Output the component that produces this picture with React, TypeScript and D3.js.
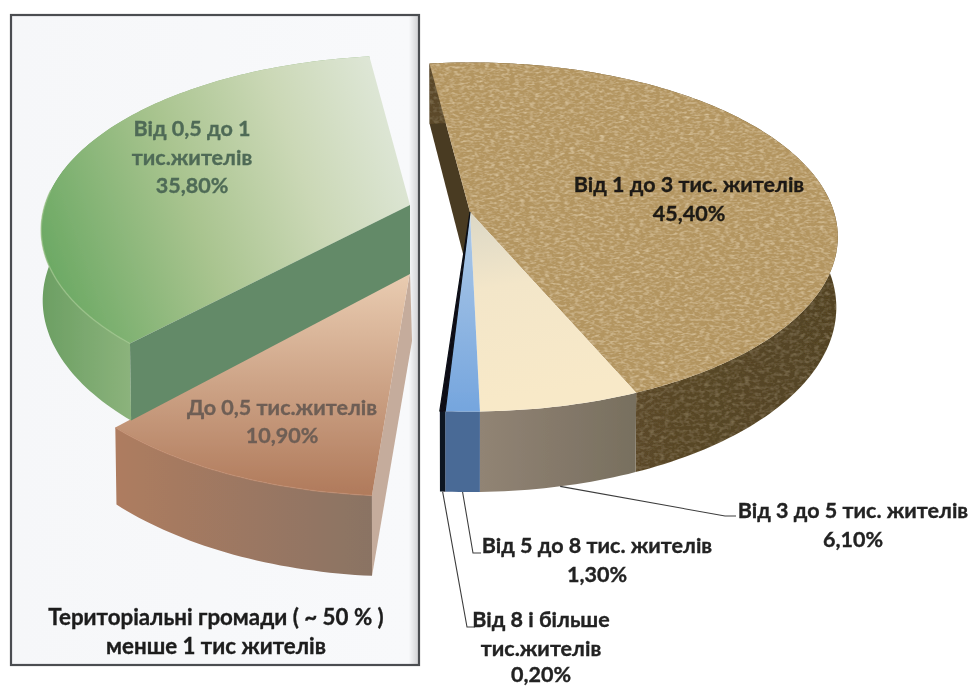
import React, { useMemo } from "react";
import * as d3 from "d3";

const sliceKeys = ["k1to3", "k3to5", "k5to8", "k8plus", "k0to05", "k05to1"];
const sliceValues = [45.4, 6.1, 1.3, 0.2, 10.9, 35.8];
const pieStartDeg = -7.3;

const labelLines: Record<string, string[]> = {
  k1to3: ["Від 1 до 3 тис. жителів", "45,40%"],
  k3to5: ["Від 3 до 5 тис. жителів", "6,10%"],
  k5to8: ["Від 5 до 8 тис. жителів", "1,30%"],
  k8plus: ["Від 8 і більше", "тис.жителів", "0,20%"],
  k0to05: ["До 0,5 тис.жителів", "10,90%"],
  k05to1: ["Від 0,5 до 1", "тис.жителів", "35,80%"],
};
const boxTitle = ["Територіальні громади ( ~ 50 % )", "менше 1 тис жителів"];

const W = 971, H = 686;
const FONT = "Lato, Carlito, 'Open Sans', sans-serif";
const K = 0.143, DEPTH = 69;

type Geo = { ax: number; ay: number; rx: number; ry: number; apexX?: number };
const rightGeo: Geo = { ax: 470, ay: 212, rx: 364, ry: 171 };
const greenGeo: Geo = { ax: 410, ay: 205, rx: 365, ry: 171 };
const peachGeo: Geo = { ax: 403, ay: 272, rx: 375, ry: 192, apexX: 410 };

const project = (g: Geo, t: number, z = 0, r = 1): [number, number] => {
  const u = Math.sin(t) * r, v = Math.cos(t) * r;
  const f = 1 / (1 + K * v);
  return [g.ax + g.rx * u * f * (1 - z * 0.004), g.ay - g.ry * v * f + z * DEPTH * f];
};
const line = d3.line<[number, number]>();
const arcPts = (g: Geo, a: number, b: number, z = 0) => {
  const n = Math.max(2, Math.ceil(Math.abs(b - a) / 0.02));
  return d3.range(n + 1).map((i) => project(g, a + ((b - a) * i) / n, z));
};
const apex = (g: Geo): [number, number] => [g.apexX ?? g.ax, g.ay];
const topPath = (g: Geo, a: number, b: number) =>
  line([apex(g), ...arcPts(g, a, b)]) + "Z";
const rimPath = (g: Geo, a: number, b: number) =>
  line([...arcPts(g, a, b), ...arcPts(g, b, a, 1)]) + "Z";
const radialFace = (g: Geo, t: number, dx = 0) =>
  line([apex(g), project(g, t), project(g, t, 1), [apex(g)[0] + dx, g.ay + DEPTH]]) + "Z";

const Lines = ({ lines, x, ys, fill, size, anchor = "middle" }: any) => (
  <g fill={fill} stroke={fill} strokeWidth={0.35} fontFamily={FONT} fontWeight={700} fontSize={size} textAnchor={anchor}>
    {lines.map((s: string, i: number) => (
      <text key={i} x={x} y={ys[i]}>{s}</text>
    ))}
  </g>
);

export default function App() {
  const arcs = useMemo(() => {
    const pie = d3.pie<number>().sort(null)
      .startAngle((pieStartDeg * Math.PI) / 180)
      .endAngle((pieStartDeg * Math.PI) / 180 + 2 * Math.PI);
    const out: Record<string, { a: number; b: number; m: number }> = {};
    pie(sliceValues).forEach((d, i) => {
      out[sliceKeys[i]] = { a: d.startAngle, b: d.endAngle, m: (d.startAngle + d.endAngle) / 2 };
    });
    return out;
  }, []);
  const { k1to3, k3to5, k5to8, k8plus, k0to05, k05to1 } = arcs;
  const leader = (t: number, elbow: [number, number], end: [number, number]) =>
    line([project(rightGeo, t, 1), elbow, end]) as string;

  return (
    <svg width={W} height={H} viewBox={`0 0 ${W} ${H}`} style={{ position: "absolute", left: 0, top: 0, background: "#fff" }}>
      <defs>
        <linearGradient id="gTop" gradientUnits="userSpaceOnUse" x1="45" y1="260" x2="410" y2="130">
          <stop offset="0" stopColor="#6ca964" /><stop offset="0.4" stopColor="#a9c48f" />
          <stop offset="0.7" stopColor="#cbd8b6" /><stop offset="1" stopColor="#e0e8da" />
        </linearGradient>
        <linearGradient id="gRim" gradientUnits="userSpaceOnUse" x1="42" y1="0" x2="132" y2="0">
          <stop offset="0" stopColor="#6c9f63" /><stop offset="1" stopColor="#8cb37c" />
        </linearGradient>
        <linearGradient id="pTop" gradientUnits="userSpaceOnUse" x1="0" y1="280" x2="0" y2="495">
          <stop offset="0" stopColor="#e8caaf" /><stop offset="1" stopColor="#b07a5b" />
        </linearGradient>
        <linearGradient id="pRim" gradientUnits="userSpaceOnUse" x1="115" y1="0" x2="372" y2="0">
          <stop offset="0" stopColor="#ae7c60" /><stop offset="1" stopColor="#8a7364" />
        </linearGradient>
        <linearGradient id="cTop" gradientUnits="userSpaceOnUse" x1="470" y1="215" x2="500" y2="400">
          <stop offset="0" stopColor="#dcd8c6" /><stop offset="0.4" stopColor="#f3e6c9" /><stop offset="1" stopColor="#f8e9c8" />
        </linearGradient>
        <linearGradient id="cRim" gradientUnits="userSpaceOnUse" x1="480" y1="0" x2="633" y2="0">
          <stop offset="0" stopColor="#918474" /><stop offset="0.5" stopColor="#85796a" /><stop offset="1" stopColor="#78705f" />
        </linearGradient>
        <linearGradient id="bTop" gradientUnits="userSpaceOnUse" x1="0" y1="230" x2="0" y2="408">
          <stop offset="0" stopColor="#a9c6e6" /><stop offset="1" stopColor="#76a6de" />
        </linearGradient>
        <linearGradient id="tRim" gradientUnits="userSpaceOnUse" x1="633" y1="0" x2="838" y2="0">
          <stop offset="0" stopColor="#5b4829" /><stop offset="1" stopColor="#524324" />
        </linearGradient>
        <linearGradient id="boxFill" gradientUnits="userSpaceOnUse" x1="11" y1="0" x2="419" y2="0">
          <stop offset="0" stopColor="#f6f7f9" /><stop offset="0.975" stopColor="#f8f9fb" /><stop offset="1" stopColor="#cfcfd1" />
        </linearGradient>
        <filter id="weave" x="0" y="0" width="100%" height="100%">
          <feTurbulence type="fractalNoise" baseFrequency="0.2 0.42" numOctaves="2" seed="4" result="n" />
          <feColorMatrix in="n" type="matrix" values="0 0 0 0 0.88  0 0 0 0 0.74  0 0 0 0 0.5  0.8 0.8 0 0 -0.72" result="lite" />
          <feComposite in="lite" in2="SourceAlpha" operator="in" result="liteIn" />
          <feMerge><feMergeNode in="SourceGraphic" /><feMergeNode in="liteIn" /></feMerge>
        </filter>
        <filter id="weaveDark" x="0" y="0" width="100%" height="100%">
          <feTurbulence type="fractalNoise" baseFrequency="0.2 0.3" numOctaves="2" seed="9" result="n" />
          <feColorMatrix in="n" type="matrix" values="0 0 0 0 0.45  0 0 0 0 0.36  0 0 0 0 0.2  0.45 0.45 0 0 -0.4" result="lite" />
          <feComposite in="lite" in2="SourceAlpha" operator="in" result="liteIn" />
          <feMerge><feMergeNode in="SourceGraphic" /><feMergeNode in="liteIn" /></feMerge>
        </filter>
        <filter id="soft" x="-2%" y="-2%" width="104%" height="104%"><feGaussianBlur stdDeviation="0.6" /></filter>
        <filter id="softText" x="-5%" y="-5%" width="110%" height="110%"><feGaussianBlur stdDeviation="0.4" /></filter>
      </defs>

      <g filter="url(#soft)">
        <rect x={11} y={15} width={408} height={650} fill="url(#boxFill)" stroke="#4c4e51" strokeWidth={2.2} />

        {/* left panel: peach slice */}
        <path d={radialFace(peachGeo, k0to05.a, 2)} fill="#c5ac9c" />
        <path d={rimPath(peachGeo, k0to05.a, k0to05.b)} fill="url(#pRim)" />
        <path d={topPath(peachGeo, k0to05.a, k0to05.b)} fill="url(#pTop)" />
        <path d={line(arcPts(peachGeo, k0to05.a, k0to05.b)) as string} fill="none" stroke="#c08a6c" strokeWidth={1.5} opacity={0.6} />

        {/* left panel: green slice */}
        <path d={rimPath(greenGeo, k05to1.a, k05to1.b)} fill="url(#gRim)" />
        <path d={topPath(greenGeo, k05to1.a, k05to1.b)} fill="url(#gTop)" />
        <path d={line(arcPts(greenGeo, k05to1.a, k05to1.a + 0.9)) as string} fill="none" stroke="#9cc38a" strokeWidth={1.5} opacity={0.7} />
        <path d={radialFace(greenGeo, k05to1.a)} fill="#648a68" />

        {/* right pie */}
        <path d={radialFace(rightGeo, k1to3.a)} fill="#4a3b22" />
        <path d={rimPath(rightGeo, k1to3.a, k1to3.b)} fill="url(#tRim)" filter="url(#weaveDark)" />
        <path d={rimPath(rightGeo, k3to5.a, k3to5.b)} fill="url(#cRim)" />
        <path d={rimPath(rightGeo, k5to8.a, k5to8.b)} fill="#4a6a96" />
        <path d={rimPath(rightGeo, k8plus.a, k8plus.b)} fill="#0c1420" />
        <path d={topPath(rightGeo, k1to3.a, k1to3.b)} fill="#b39560" filter="url(#weave)" />
        <path d={topPath(rightGeo, k3to5.a, k3to5.b)} fill="url(#cTop)" />
        <path d={topPath(rightGeo, k5to8.a, k5to8.b)} fill="url(#bTop)" />
        <path d={topPath(rightGeo, k8plus.a, k8plus.b)} fill="#0a1018" stroke="#0a1018" strokeWidth={1.2} />

        {/* leader lines */}
        <g fill="none" stroke="#3c3c3c" strokeWidth={1.1}>
          <path d={leader(k3to5.m, [725, 516], [736, 516])} />
          <path d={leader(k5to8.m, [473, 553], [481, 553])} />
          <path d={leader(k8plus.m, [467, 627], [475, 627])} />
        </g>
      </g>

      <g filter="url(#softText)">
        <Lines lines={labelLines.k05to1} x={192} ys={[136, 165, 193]} fill="#4f6b57" size={21.5} />
        <Lines lines={labelLines.k0to05} x={282} ys={[415, 443]} fill="#6e5e55" size={21.5} />
        <Lines lines={boxTitle} x={216} ys={[625, 654]} fill="#1c1c1c" size={22.3} />
        <Lines lines={labelLines.k1to3} x={689} ys={[192, 221]} fill="#1e1a14" size={21.5} />
        <Lines lines={labelLines.k3to5} x={853} ys={[518, 547]} fill="#222" size={21.5} />
        <Lines lines={labelLines.k5to8} x={597} ys={[553, 582]} fill="#222" size={21.5} />
        <Lines lines={labelLines.k8plus} x={541} ys={[627, 656, 681.5]} fill="#222" size={21.5} />
      </g>
    </svg>
  );
}
